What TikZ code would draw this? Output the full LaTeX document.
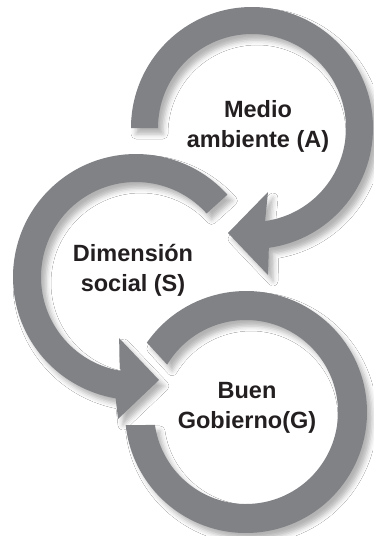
\documentclass[tikz,border=0pt]{standalone}
\usepackage{fontspec}
\setmainfont{Liberation Sans}
\usetikzlibrary{calc,shadows.blur}
\definecolor{ringc}{RGB}{128,130,134}
\definecolor{txtc}{RGB}{35,31,32}
\tikzset{
  ring/.style={fill=ringc, draw=none,
    blur shadow={shadow xshift=5pt, shadow yshift=-6pt, shadow blur radius=5pt, shadow opacity=30}},
  lbl/.style={align=center, inner sep=0pt, text=txtc,
    font=\bfseries\fontsize{23.5}{30}\selectfont}
}
\begin{document}
\begin{tikzpicture}[x=1pt,y=1pt]
\useasboundingbox[fill=white] (0,0) rectangle (373,-536);
\coordinate (cA) at (252,-128);
\coordinate (cS) at (136,-277);
\coordinate (cG) at (246,-412);
% ring A (Medio ambiente)
\fill[ring] ($(cA)+(180:121)$) arc[start angle=180,end angle=-82,radius=121]
  -- (268,-275) -- (228,-233) -- (268,-192)
  -- ($(cA)+(-82:94)$) arc[start angle=-82,end angle=180,radius=94] -- cycle;
% ring S (Dimension social)
\fill[ring] ($(cS)+(42:123)$) arc[start angle=42,end angle=260.5,radius=123]
  -- (118,-419) -- (159,-380) -- (119,-338)
  -- ($(cS)+(260.5:95)$) arc[start angle=260.5,end angle=42,radius=95] -- cycle;
% ring G (Buen Gobierno)
\fill[ring] ($(cG)+(145:121)$) arc[start angle=145,end angle=-173.8,radius=121]
  -- ($(cG)+(-171.9:92)$) arc[start angle=-171.9,end angle=149,radius=92] -- cycle;
\node[lbl] (tA) at (258,-126.5) {Medio\\ambiente (A)};
\node[lbl] (tS) at (133,-270) {Dimensión\\social (S)};
\node[lbl] (tG) at (247,-407.5) {Buen\\Gobierno(G)};
\end{tikzpicture}
\end{document}
